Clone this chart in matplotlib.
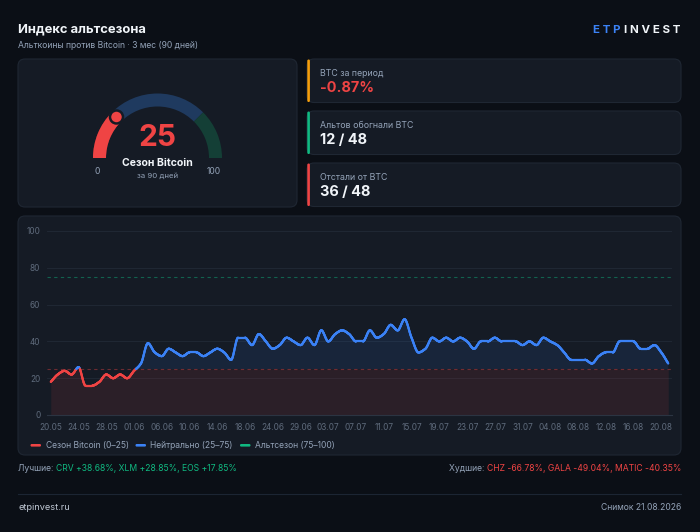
import numpy as np
import matplotlib
matplotlib.use("Agg")
import matplotlib.pyplot as plt
from matplotlib.patches import FancyBboxPatch, Wedge, Circle
from matplotlib.collections import LineCollection

plt.rcParams['font.family'] = ['Inter', 'DejaVu Sans']

# %% Data
index_values = [18, 22, 24, 22, 26, 16, 16, 18, 22, 20, 22, 20, 24, 28, 39, 34, 32, 36, 34, 32,
                34, 34, 32, 34, 36, 34, 30, 42, 42, 38, 44, 40, 36, 38, 42, 40, 38, 42, 38, 46,
                40, 44, 46, 44, 40, 40, 46, 42, 44, 49, 46, 52, 42, 34, 36, 42, 40, 42, 40, 42,
                40, 36, 40, 40, 42, 40, 40, 40, 38, 40, 38, 42, 40, 38, 34, 30, 30, 30, 28, 32,
                34, 34, 40, 40, 40, 36, 36, 38, 34, 28]
tick_labels = ['20.05', '24.05', '28.05', '01.06', '06.06', '10.06', '14.06', '18.06', '24.06',
               '29.06', '03.07', '07.07', '11.07', '15.07', '19.07', '23.07', '27.07', '31.07',
               '04.08', '08.08', '12.08', '16.08', '20.08']
tick_step = 4
zones = [(0, 25), (25, 75), (75, 100)]
zone_names = ['Сезон Bitcoin (0–25)', 'Нейтрально (25–75)', 'Альтсезон (75–100)']
current_value = 25
stat_labels = ['BTC за период', 'Альтов обогнали BTC', 'Отстали от BTC']
stat_values = ['-0.87%', '12 / 48', '36 / 48']
best = ['CRV +38.68%', 'XLM +28.85%', 'EOS +17.85%']
worst = ['CHZ -66.78%', 'GALA -49.04%', 'MATIC -40.35%']

# %% Colours
BG = '#0b0f16'
CARD = '#151b25'
EDGE = '#1f2733'
WHITE = '#f1f5f9'
GRAY = '#94a3b8'
DIM = '#5f6b7c'
RED = '#ef4444'
BLUE = '#3b82f6'
GREEN = '#10b981'
ORANGE = '#f59e0b'


def pchip(x, y, xs):
    # monotone cubic interpolation (like chart.js "monotone")
    x = np.asarray(x, float)
    y = np.asarray(y, float)
    h = np.diff(x)
    d = np.diff(y) / h
    m = np.zeros_like(y)
    for k in range(1, len(y) - 1):
        if d[k - 1] * d[k] > 0:
            w1 = 2 * h[k] + h[k - 1]
            w2 = h[k] + 2 * h[k - 1]
            m[k] = (w1 + w2) / (w1 / d[k - 1] + w2 / d[k])
    m[0] = d[0]
    m[-1] = d[-1]
    idx = np.clip(np.searchsorted(x, xs) - 1, 0, len(x) - 2)
    t = (xs - x[idx]) / h[idx]
    h00 = 2 * t**3 - 3 * t**2 + 1
    h10 = t**3 - 2 * t**2 + t
    h01 = -2 * t**3 + 3 * t**2
    h11 = t**3 - t**2
    return h00 * y[idx] + h10 * h[idx] * m[idx] + h01 * y[idx + 1] + h11 * h[idx] * m[idx + 1]


W, H = 700, 532
fig = plt.figure(figsize=(W / 100, H / 100), dpi=100, facecolor=BG)

# overlay in pixel coordinates for the cards and texts
ov = fig.add_axes([0, 0, 1, 1], zorder=0)
ov.set_xlim(0, W)
ov.set_ylim(H, 0)
ov.axis('off')
ov.set_facecolor(BG)


def px(s):
    return s * 0.72


def card(x0, y0, x1, y1):
    ov.add_patch(FancyBboxPatch((x0, y0), x1 - x0, y1 - y0,
                                boxstyle='round,pad=0,rounding_size=7',
                                fc=CARD, ec=EDGE, lw=0.8))


# %% Header
ov.text(18, 29, 'Индекс альтсезона', color=WHITE, fontsize=px(13), fontweight='bold', va='center')
ov.text(18, 45, 'Альткоины против Bitcoin · 3 мес (90 дней)', color=GRAY, fontsize=px(8.6), va='center')
t_inv = ov.text(680, 30, 'I N V E S T', color=WHITE, fontsize=px(11.5), fontweight='bold',
                va='center', ha='right')
fig.canvas.draw()
bb = t_inv.get_window_extent().transformed(ov.transData.inverted())
ov.text(bb.x0 - 3, 30, 'E T P', color=BLUE, fontsize=px(11.5), fontweight='bold', va='center', ha='right')

# %% Gauge card
card(18, 59, 297, 207)
cx, cy, r_out, wdt = 157.5, 158, 64.5, 13
zone_cols = ['#7a2a30', '#1f3a5f', '#143f36']
for (v1, v2), c in zip(zones, zone_cols):
    ov.add_patch(Wedge((cx, cy), r_out, 1.8 * v1 - 180, 1.8 * v2 - 180, width=wdt, fc=c, ec='none'))
ov.add_patch(Wedge((cx, cy), r_out, -180, 1.8 * current_value - 180, width=wdt, fc=RED, ec='none'))
ang = np.deg2rad(180 - 1.8 * current_value)
rm = r_out - wdt / 2
ov.add_patch(Circle((cx + rm * np.cos(ang), cy - rm * np.sin(ang)), 6.5, fc=RED, ec=CARD, lw=1.8, zorder=5))
ov.text(cx, 138, str(current_value), color=RED, fontsize=px(30), fontweight='bold', ha='center', va='center')
ov.text(cx, 163, 'Сезон Bitcoin', color=WHITE, fontsize=px(10.5), fontweight='bold', ha='center', va='center')
ov.text(cx, 176, 'за 90 дней', color=GRAY, fontsize=px(7.8), ha='center', va='center')
ov.text(97, 171.5, '0', color=GRAY, fontsize=px(8.5), ha='center', va='center')
ov.text(214, 171.5, '100', color=GRAY, fontsize=px(8.5), ha='center', va='center')

# %% Stat cards
accents = [ORANGE, GREEN, RED]
val_cols = [RED, WHITE, WHITE]
for k in range(3):
    y0 = 59 + k * 52
    card(307, y0, 681, y0 + 43.5)
    ov.add_patch(FancyBboxPatch((307.3, y0 + 0.5), 2.6, 42.5,
                                boxstyle='round,pad=0,rounding_size=1.3', fc=accents[k], ec='none'))
    ov.text(320, y0 + 14.5, stat_labels[k], color=GRAY, fontsize=px(8.8), va='center')
    ov.text(320, y0 + 29.5, stat_values[k], color=val_cols[k], fontsize=px(14.5), fontweight='bold', va='center')

# %% Chart card
card(18, 216, 681, 455)

ax = fig.add_axes([47.3 / W, 1 - 415 / H, (671.7 - 47.3) / W, (415 - 231) / H], zorder=2)
ax.set_facecolor('none')
n = len(index_values)
x = np.arange(n)
xs = np.linspace(0, n - 1, 3000)
ys = pchip(x, index_values, xs)

ax.fill_between(xs, 0, np.minimum(ys, 25), color=RED, alpha=0.1, lw=0)
ax.fill_between(xs, 25, ys, where=ys >= 25, interpolate=True, color=BLUE, alpha=0.1, lw=0)
ax.axhline(25, color=RED, alpha=0.4, lw=0.8, ls=(0, (3, 3)))
ax.axhline(75, color=GREEN, alpha=0.45, lw=0.8, ls=(0, (3, 3)))

pts = np.column_stack([xs, ys])
segs = np.stack([pts[:-1], pts[1:]], axis=1)
mid = (ys[:-1] + ys[1:]) / 2
seg_cols = np.where(mid < 25, RED, np.where(mid < 75, BLUE, GREEN))
ax.add_collection(LineCollection(segs, colors=seg_cols, lw=1.6, capstyle='round', zorder=3))

ax.set_xlim(-0.5, n - 0.5)
ax.set_ylim(0, 100)
ax.set_yticks(range(0, 101, 20))
ax.set_xticks(range(0, tick_step * len(tick_labels), tick_step))
ax.set_xticklabels(tick_labels)
ax.tick_params(colors=DIM, labelsize=px(8.2), length=0, pad=5)
ax.tick_params(axis='x', pad=6)
ax.grid(axis='y', color='#222a36', lw=0.6)
for s in ['top', 'right', 'left']:
    ax.spines[s].set_visible(False)
ax.spines['bottom'].set_color('#2b3442')
ax.spines['bottom'].set_linewidth(0.8)
ax.set_axisbelow(True)

# legend
leg_x = [30.5, 135.5, 240]
for k, c in enumerate([RED, BLUE, GREEN]):
    ov.add_patch(FancyBboxPatch((leg_x[k], 444), 10.5, 2.6, boxstyle='round,pad=0,rounding_size=1.2',
                                fc=c, ec='none'))
    ov.text(leg_x[k] + 15, 445.3, zone_names[k], color=GRAY, fontsize=px(8.5), va='center')

# %% Best / worst
t = ov.text(18.5, 468.5, 'Лучшие: ', color=GRAY, fontsize=px(8.6), va='center')
fig.canvas.draw()
bb = t.get_window_extent().transformed(ov.transData.inverted())
ov.text(bb.x1, 468.5, ', '.join(best), color=GREEN, fontsize=px(8.6), va='center')
t = ov.text(681, 468.5, ', '.join(worst), color=RED, fontsize=px(8.6), va='center', ha='right')
fig.canvas.draw()
bb = t.get_window_extent().transformed(ov.transData.inverted())
ov.text(bb.x0, 468.5, 'Худшие: ', color=GRAY, fontsize=px(8.6), va='center', ha='right')

# %% Footer
ov.plot([18, 681], [494, 494], color='#1c2533', lw=0.8)
ov.text(18.5, 507, 'etpinvest.ru', color='#c0c8d4', fontsize=px(9.2), va='center')
ov.text(681, 507, 'Снимок 21.08.2026', color=GRAY, fontsize=px(8.6), va='center', ha='right')

fig.savefig('out.png', dpi=100, facecolor=BG)
